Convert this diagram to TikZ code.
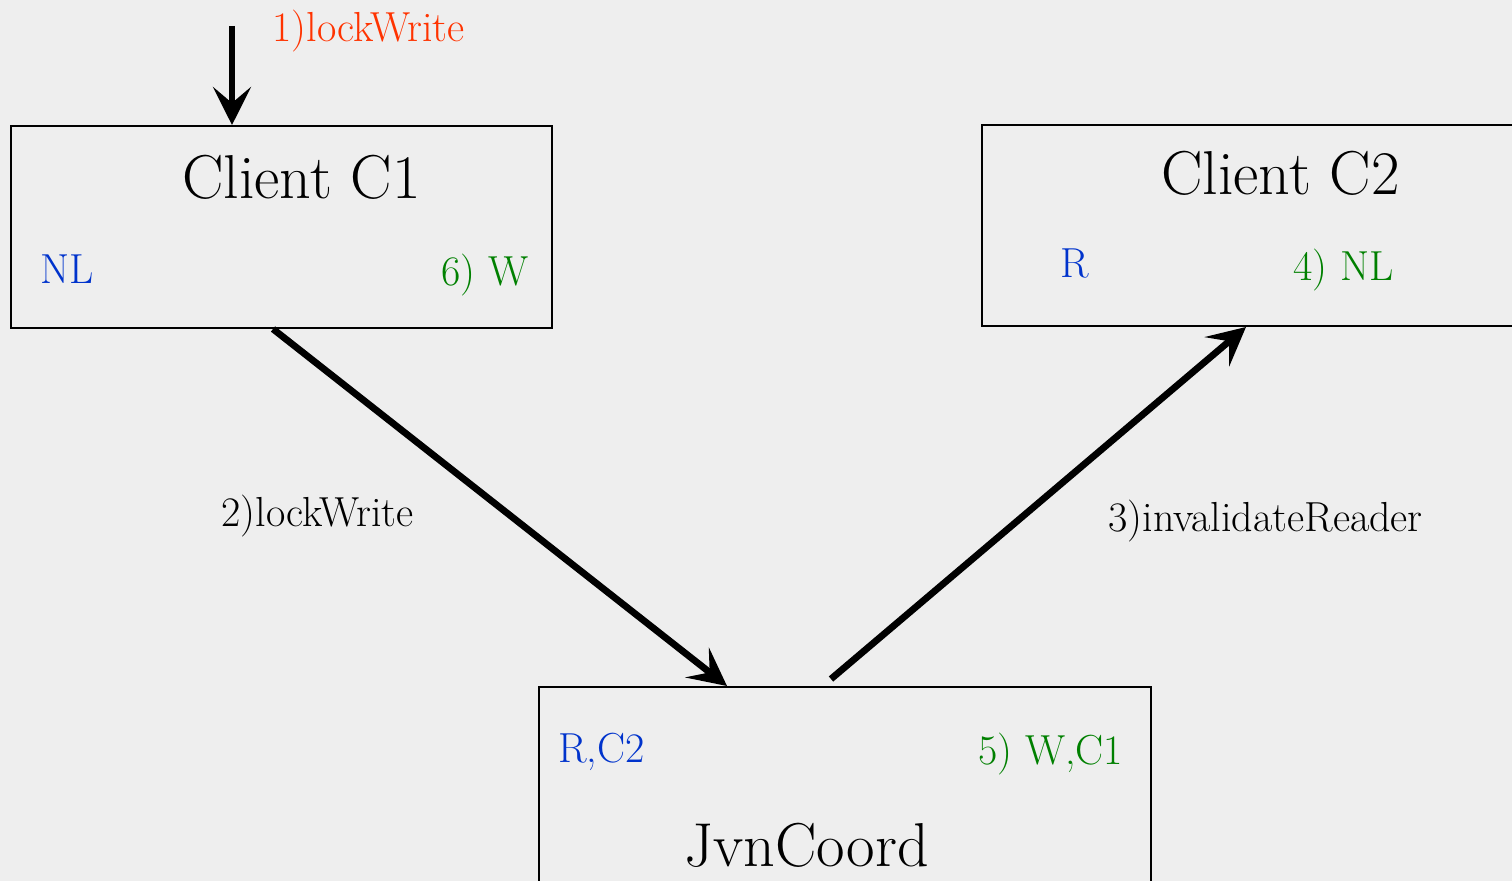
\documentclass[tikz,border=0pt]{standalone}
\usetikzlibrary{arrows.meta}
\definecolor{bg}{HTML}{EEEEEE}
\definecolor{callred}{HTML}{FF3300}
\definecolor{stateblue}{HTML}{0033CC}
\definecolor{stategreen}{HTML}{008000}
\tikzset{
  box/.style={draw=black, line width=1pt, inner sep=0pt, fill=none},
  title/.style={font=\fontsize{31}{36}\selectfont, anchor=base west, inner sep=0pt},
  small/.style={font=\fontsize{21}{25}\selectfont, anchor=base west, inner sep=0pt},
  oldstate/.style={small, text=stateblue},
  newstate/.style={small, text=stategreen},
  call/.style={line width=3.4pt, -{Stealth[length=19pt, width=19pt, inset=8pt]}},
}
\begin{document}
\begin{tikzpicture}[x=0.5pt, y=-0.5pt]
  % canvas
  \clip (0,0) rectangle (1512,881);
  \fill[bg] (0,0) rectangle (1512,881);

  % the three parties
  \node[box, minimum width=270.5pt, minimum height=101pt] (c1) at (281.5,227) {};
  \node[box, minimum width=274pt, minimum height=100.5pt] (c2) at (1256,225.5) {};
  \node[box, minimum width=306pt, minimum height=150pt] (jvn) at (845,837) {};

  % titles
  \node[title] (t1) at (182,199) {Client C1};
  \node[title] (t2) at (1161,195) {Client C2};
  \node[title] (t3) at (684,867) {JvnCoord};

  % lock states
  \node[oldstate] (s1a) at (40,284) {NL};
  \node[newstate] (s1b) at (441,286) {6) W};
  \node[oldstate] (s2a) at (1060,278) {R};
  \node[newstate] (s2b) at (1293,281) {4) NL};
  \node[oldstate] (s3a) at (558,763) {R,C2};
  \node[newstate] (s3b) at (978,765) {5) W,C1};

  % calls
  \coordinate (entry) at (232,26);
  \draw[call] (entry) -- ([xshift=-24.75pt]c1.north);
  \draw[call] ([xshift=-4.25pt]c1.south) -- ([xshift=-59pt]jvn.north);
  \draw[call] ([xshift=-7pt, yshift=3.5pt]jvn.north) -- ([xshift=-5pt]c2.south);

  % call labels
  \node[small, text=callred] (l1) at (272,42) {1)lockWrite};
  \node[small] (l2) at (221,527) {2)lockWrite};
  \node[small] (l3) at (1108,532) {3)invalidateReader};
\end{tikzpicture}
\end{document}
